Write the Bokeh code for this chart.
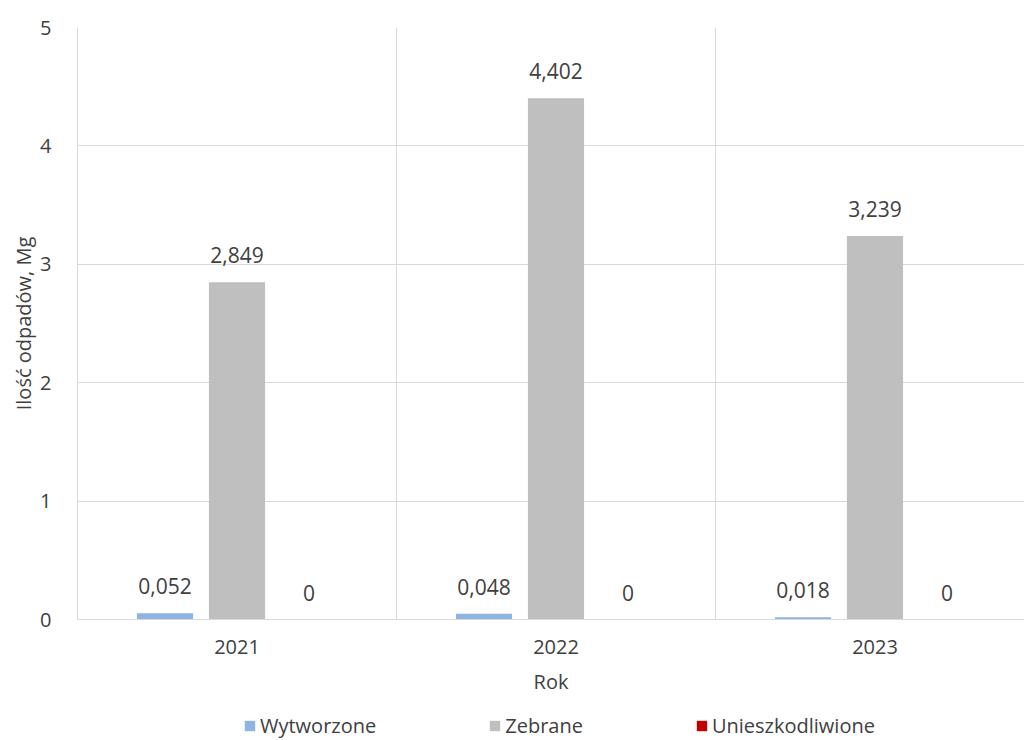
import numpy as np
from bokeh.plotting import figure
from bokeh.layouts import column
from bokeh.models import Range1d, FixedTicker, Legend, LegendItem, ColumnDataSource
from bokeh.core.properties import value
from bokeh.embed import file_html
from bokeh.resources import INLINE

years = ["2021", "2022", "2023"]
wytworzone = [0.052, 0.048, 0.018]
zebrane = [2.849, 4.402, 3.239]
unieszkodliwione = [0, 0, 0]
series_names = ["Wytworzone", "Zebrane", "Unieszkodliwione"]
y_ticks = [0, 1, 2, 3, 4, 5]

FONT = "Open Sans"
TXT = "#404040"
GRID = "#D9D9D9"
colors = ["#8EB4E3", "#BFBFBF", "#C00000"]
offsets = [-0.2257, 0.0, 0.2257]
bar_w = 0.176
W = 1024

def fmt(v):
    return "0" if v == 0 else f"{v:.3f}".replace(".", ",")

p = figure(width=W, height=700, output_backend="svg", toolbar_location=None,
           x_range=Range1d(0, (W - 77) / 319.0), y_range=Range1d(0, 5),
           min_border_left=77, min_border_right=0, min_border_top=27, min_border_bottom=81)
p.outline_line_color = None

# legend strip below the chart (its renderers share the data but sit outside its visible range)
leg = figure(width=W, height=39, output_backend="svg", toolbar_location=None,
             x_range=Range1d(-100, -99), y_range=Range1d(-100, -99),
             x_axis_location=None, y_axis_location=None,
             min_border_left=0, min_border_right=0, min_border_top=0, min_border_bottom=0)
leg.outline_line_color = None
leg.xgrid.visible = False
leg.ygrid.visible = False

idx = np.arange(len(years))
items = []
for name, vals, col, off in zip(series_names, [wytworzone, zebrane, unieszkodliwione], colors, offsets):
    src = ColumnDataSource(dict(x=idx + 0.5 + off, top=vals, lab=[fmt(v) for v in vals]))
    p.vbar(x="x", top="top", width=bar_w, source=src, fill_color=col, line_color=None)
    p.text(x="x", y="top", text="lab", source=src, text_align="center", text_baseline="alphabetic",
           y_offset=-27, text_font=value(FONT), text_font_size="21px", text_color=TXT)
    r = leg.vbar(x="x", top="top", width=bar_w, source=src, fill_color=col, line_color=None)
    items.append(LegendItem(label=name, renderers=[r]))

# axes
p.xaxis.ticker = FixedTicker(ticks=list(idx + 0.5))
p.xaxis.major_label_overrides = {float(i + 0.5): y for i, y in zip(idx, years)}
p.xaxis.major_tick_line_color = None
p.xaxis.minor_tick_line_color = None
p.xaxis.axis_line_color = GRID
p.xaxis.major_label_standoff = 14
p.xaxis.axis_label = "Rok"
p.xaxis.axis_label_standoff = 11
p.yaxis.ticker = FixedTicker(ticks=y_ticks)
p.yaxis.major_tick_line_color = None
p.yaxis.minor_tick_line_color = None
p.yaxis.axis_line_color = GRID
p.yaxis.major_label_standoff = 20
p.yaxis.axis_label = "Ilość odpadów, Mg"
p.yaxis.axis_label_standoff = 0
for ax in (p.xaxis, p.yaxis):
    ax.major_label_text_font = FONT
    ax.major_label_text_font_size = "20px"
    ax.major_label_text_color = TXT
    ax.axis_label_text_font = FONT
    ax.axis_label_text_font_size = "20px"
    ax.axis_label_text_font_style = "normal"
    ax.axis_label_text_color = TXT

p.xgrid.ticker = FixedTicker(ticks=[1, 2, 3])
p.xgrid.grid_line_color = GRID
p.ygrid.ticker = FixedTicker(ticks=y_ticks)
p.ygrid.grid_line_color = GRID

legend = Legend(items=items, location=(166, 0), orientation="horizontal",
                border_line_color=None, background_fill_alpha=0, padding=0, margin=0,
                spacing=112, glyph_width=13, glyph_height=13, label_standoff=4,
                label_height=10, label_text_font=FONT, label_text_font_size="20px",
                label_text_color=TXT)
leg.add_layout(legend, "center")

layout = column(p, leg, spacing=0)
open("out.html", "w").write(file_html(layout, INLINE))
